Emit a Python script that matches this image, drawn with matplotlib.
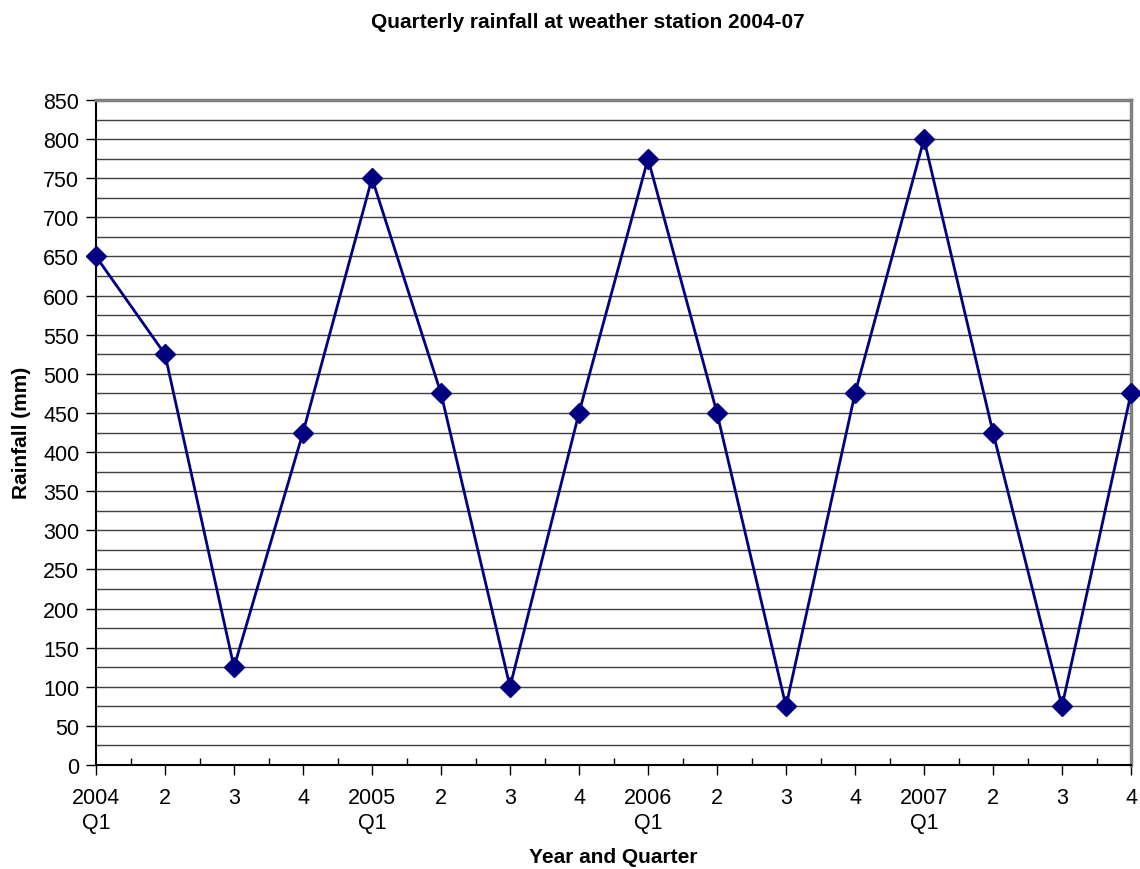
import matplotlib
matplotlib.use("Agg")
from matplotlib import pyplot as plt
from matplotlib.ticker import MultipleLocator

plt.rcParams['font.family'] = ['Liberation Sans', 'DejaVu Sans']

quarters = ["2004\nQ1", "2", "3", "4", "2005\nQ1", "2", "3", "4",
            "2006\nQ1", "2", "3", "4", "2007\nQ1", "2", "3", "4"]
rainfall = [650, 525, 125, 425, 750, 475, 100, 450,
            775, 450, 75, 475, 800, 425, 75, 475]

W, H = 1140, 870
fig = plt.figure(figsize=(W / 100, H / 100), dpi=100)
ax = fig.add_axes([96 / W, 1 - 766 / H, (1131 - 96) / W, (766 - 101) / H])

x = list(range(len(rainfall)))
ax.plot(x, rainfall, color="#000080", linewidth=2, marker="D", markersize=10,
        zorder=3, clip_on=False)

ax.set_xlim(0, len(rainfall) - 1)
ax.set_ylim(0, 850)

ax.yaxis.set_major_locator(MultipleLocator(50))
ax.yaxis.set_minor_locator(MultipleLocator(25))
ax.grid(which="both", axis="y", color="#404040", linewidth=1)
ax.set_axisbelow(True)

ax.set_xticks(x)
ax.set_xticklabels(quarters, fontsize=15.5, linespacing=1.25)
ax.set_xticks([i + 0.5 for i in x[:-1]], minor=True)
ax.tick_params(axis="x", which="major", direction="out", length=7, width=1, pad=9)
ax.tick_params(axis="x", which="minor", direction="in", length=5, width=1)
ax.tick_params(axis="y", which="major", direction="out", length=7, width=1,
               labelsize=15.5, pad=5)
ax.tick_params(axis="y", which="minor", length=0)

ax.spines["left"].set_color("black")
ax.spines["bottom"].set_color("black")
ax.spines["left"].set_linewidth(1.5)
ax.spines["bottom"].set_linewidth(1.5)
ax.spines["top"].set_color("#808080")
ax.spines["right"].set_color("#808080")
ax.spines["top"].set_linewidth(2.5)
ax.spines["right"].set_linewidth(2.5)

mid_x = (96 + 1131) / 2 / W
fig.text(mid_x, 1 - 858 / H, "Year and Quarter", fontsize=15, fontweight="bold",
         ha="center", va="center")
fig.text(22 / W, 1 - 433 / H, "Rainfall (mm)", fontsize=15, fontweight="bold",
         ha="center", va="center", rotation=90)
fig.text(588 / W, 1 - 23 / H, "Quarterly rainfall at weather station 2004-07",
         fontsize=15, fontweight="bold", ha="center", va="center")

fig.savefig("out.png", dpi=100)
